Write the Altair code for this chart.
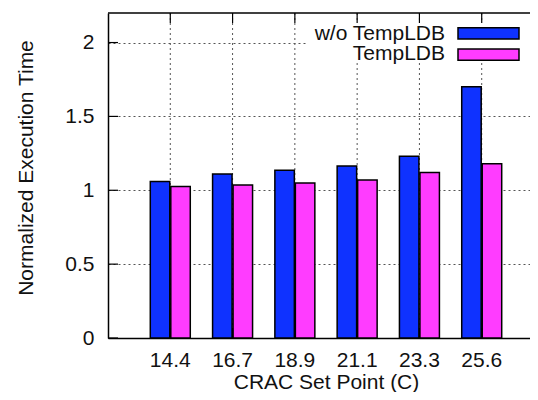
import altair as alt
import pandas as pd

# ---- data ----
categories = ["14.4", "16.7", "18.9", "21.1", "23.3", "25.6"]
series = ["w/o TempLDB", "TempLDB"]
without_templdb = [1.06, 1.11, 1.135, 1.165, 1.23, 1.70]
with_templdb = [1.025, 1.035, 1.05, 1.07, 1.12, 1.18]
y_ticks = [0, 0.5, 1, 1.5, 2]
colors = ["#0f32ff", "#ff3cff"]

rows = []
for c, a, b in zip(categories, without_templdb, with_templdb):
    rows.append({"setpoint": c, "series": series[0], "value": a})
    rows.append({"setpoint": c, "series": series[1], "value": b})
df = pd.DataFrame(rows)
cat_df = pd.DataFrame({"setpoint": categories})
tick_df = pd.DataFrame({"v": y_ticks})

W, H = 422, 325
FULL = 436
FONT = "Liberation Sans"
FS = 21
TXT = "#111111"
GRID = "#555555"
TL = 10

xscale = alt.Scale(domain=categories, range=[0, FULL], paddingInner=0.358, paddingOuter=0.679)
yscale = alt.Scale(domain=[0, 2.2], nice=False, zero=True)
cscale = alt.Scale(domain=series, range=colors)

# vertical dotted grid through each category centre
vgrid = alt.Chart(cat_df).mark_rule(color=GRID, strokeWidth=1, strokeDash=[2, 3]).encode(
    x=alt.X(
        "setpoint:N", sort=categories, scale=xscale,
        axis=alt.Axis(
            title="CRAC Set Point (C)", labelAngle=0, grid=False, ticks=False, tickSize=0,
            labelPadding=28, labelBaseline="alphabetic", labelFont=FONT,
            labelFontSize=FS, labelColor=TXT,
            titleFont=FONT, titleFontSize=FS, titleFontWeight="normal", titleColor=TXT,
            titleX=218, titleY=50, titleBaseline="alphabetic", titleAlign="center",
            domainColor="black", domainWidth=1.5,
        ),
    ),
    y=alt.value(0), y2=alt.value(H),
)

bars = alt.Chart(df).mark_bar(stroke="black", strokeWidth=1.5, strokeOpacity=1).encode(
    x=alt.X("setpoint:N", sort=categories),
    xOffset=alt.XOffset("series:N", sort=series,
                        scale=alt.Scale(domain=series, paddingInner=0.05)),
    y=alt.Y(
        "value:Q", scale=yscale,
        axis=alt.Axis(
            title="Normalized Execution Time", values=y_ticks, format="~g",
            grid=True, gridDash=[2, 3], gridColor=GRID, gridWidth=1, gridOpacity=1,
            ticks=False, tickSize=0, labelPadding=14, labelFont=FONT,
            labelFontSize=FS, labelColor=TXT, titleFont=FONT, titleFontSize=FS,
            titleFontWeight="normal", titleColor=TXT, titleX=-76, titleY=154.5,
            titleAngle=270, titleBaseline="alphabetic", titleAlign="center",
            domainColor="black", domainWidth=1.5,
        ),
    ),
    color=alt.Color("series:N", sort=series, scale=cscale, legend=None),
)

# white key box (covers the grid behind the key, as in the original)
key_box = alt.Chart(cat_df.head(1)).mark_rect(fill="white").encode(
    x=alt.value(199), x2=alt.value(FULL), y=alt.value(10), y2=alt.value(49)
)

top_border = alt.Chart(cat_df.head(1)).mark_rule(color="black", strokeWidth=1.5).encode(
    x=alt.value(0), x2=alt.value(FULL), y=alt.value(0)
)

x_ticks_bottom = alt.Chart(cat_df).mark_rule(color="black", strokeWidth=1.2).encode(
    x=alt.X("setpoint:N", sort=categories), y=alt.value(H - TL), y2=alt.value(H)
)
x_ticks_top = alt.Chart(cat_df).mark_rule(color="black", strokeWidth=1.2).encode(
    x=alt.X("setpoint:N", sort=categories), y=alt.value(0), y2=alt.value(TL)
)
y_ticks_left = alt.Chart(tick_df).mark_rule(color="black", strokeWidth=1.2).encode(
    y=alt.Y("v:Q"), x=alt.value(0), x2=alt.value(TL)
)

# key entries: label right-aligned, swatch to its right
key_layers = []
for i, name in enumerate(series):
    kdf = pd.DataFrame({"series": [name]})
    key_layers.append(
        alt.Chart(kdf).mark_text(
            align="right", baseline="alphabetic", font=FONT, fontSize=FS, color=TXT
        ).encode(text="series:N", x=alt.value(337), y=alt.value(26.5 + 20.5 * i))
    )
    key_layers.append(
        alt.Chart(kdf).mark_rect(stroke="black", strokeWidth=1.5).encode(
            color=alt.Color("series:N", scale=cscale, legend=None),
            x=alt.value(350), x2=alt.value(411),
            y=alt.value(14.7 + 21.2 * i), y2=alt.value(26 + 21.2 * i),
        )
    )

chart = alt.layer(
    vgrid, bars, key_box, x_ticks_bottom, x_ticks_top, y_ticks_left, top_border,
    *key_layers
).properties(
    width=W, height=H,
    padding={"left": 100, "top": 5, "right": 0, "bottom": 54},
    autosize=alt.AutoSizeParams(type="none"),
    view=alt.ViewBackground(stroke="white", strokeWidth=2),
)

chart.save("out.html", embed_options={"renderer": "svg", "actions": False})
